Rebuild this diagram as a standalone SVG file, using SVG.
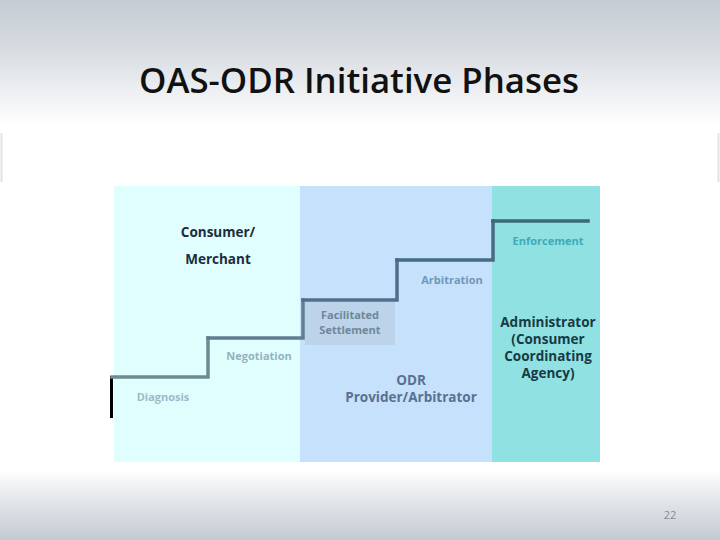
<svg xmlns="http://www.w3.org/2000/svg" width="720" height="540" viewBox="0 0 720 540">
<defs>
<linearGradient id="gTop" x1="0" y1="0" x2="0" y2="1">
<stop offset="0" stop-color="#c6ccd4"/>
<stop offset="0.35" stop-color="#d4d9df"/>
<stop offset="1" stop-color="#ffffff"/>
</linearGradient>
<linearGradient id="gBot" x1="0" y1="0" x2="0" y2="1">
<stop offset="0" stop-color="#ffffff"/>
<stop offset="0.45" stop-color="#e2e5e9"/>
<stop offset="1" stop-color="#c4cad2"/>
</linearGradient>
</defs>
<style>
text{font-family:"Open Sans","Liberation Sans",sans-serif;text-anchor:middle;font-weight:bold}
.phase{font-size:11px}
.actor{font-size:13.5px}
.step{fill:none;stroke-width:3.5;stroke-linecap:square}
</style>
<rect x="0" y="0" width="720" height="540" fill="#ffffff"/>
<rect x="0" y="0" width="720" height="125" fill="url(#gTop)"/>
<rect x="0" y="470" width="720" height="70" fill="url(#gBot)"/>
<line x1="1.5" y1="133" x2="1.5" y2="182" stroke="#e2e2e2" stroke-width="2"/>
<line x1="718.5" y1="133" x2="718.5" y2="182" stroke="#e2e2e2" stroke-width="2"/>
<text x="359" y="93" style="font-weight:600;font-size:34px" fill="#111111" textLength="440" lengthAdjust="spacingAndGlyphs">OAS-ODR Initiative  Phases</text>

<g id="panel-consumer">
<rect x="114" y="186" width="186" height="276" fill="#e0fefe"/>
<text class="actor" x="218" y="237" fill="#1c2c3a">Consumer/</text>
<text class="actor" x="218" y="264" fill="#1c2c3a">Merchant</text>
</g>
<g id="panel-odr">
<rect x="300" y="186" width="192" height="276" fill="#c6e1fb"/>
<text class="actor" x="411" y="385" fill="#5a7092">ODR</text>
<text class="actor" x="411" y="402" fill="#5a7092">Provider/Arbitrator</text>
</g>
<g id="panel-admin">
<rect x="492" y="186" width="108" height="276" fill="#90e1e1"/>
<text class="actor" x="548" y="327" fill="#173a44">Administrator</text>
<text class="actor" x="548" y="344" fill="#173a44">(Consumer</text>
<text class="actor" x="548" y="361" fill="#173a44">Coordinating</text>
<text class="actor" x="548" y="378" fill="#173a44">Agency)</text>
</g>

<g id="connectors">
<line x1="111.5" y1="376" x2="111.5" y2="418" stroke="#000000" stroke-width="3"/>
<polyline class="step" points="112,377 208,377 208,338" stroke="#6a8c92"/>
<polyline class="step" points="208,338 303,338 303,300" stroke="#5f7f90"/>
<polyline class="step" points="303,300 397,300 397,260" stroke="#526e8c"/>
<polyline class="step" points="397,260 493,260 493,221" stroke="#466c80"/>
<polyline class="step" points="493,221 588,221" stroke="#3a6a74"/>
</g>

<g id="diagnosis">
<text class="phase" x="163" y="401" fill="#9bbac8">Diagnosis</text>
</g>
<g id="negotiation">
<text class="phase" x="259" y="360" fill="#93b2c2">Negotiation</text>
</g>
<g id="facilitated-settlement">
<rect x="305" y="302" width="90" height="43" fill="#bcd3ea"/>
<text class="phase" x="350" y="319" fill="#6e8898">Facilitated</text>
<text class="phase" x="350" y="334" fill="#6e8898">Settlement</text>
</g>
<g id="arbitration">
<text class="phase" x="452" y="284" fill="#6f98b8">Arbitration</text>
</g>
<g id="enforcement">
<text class="phase" x="548" y="245" fill="#3eaab8">Enforcement</text>
</g>
<text x="670" y="519" style="font-weight:normal;font-size:11px" fill="#858b94">22</text>
</svg>
